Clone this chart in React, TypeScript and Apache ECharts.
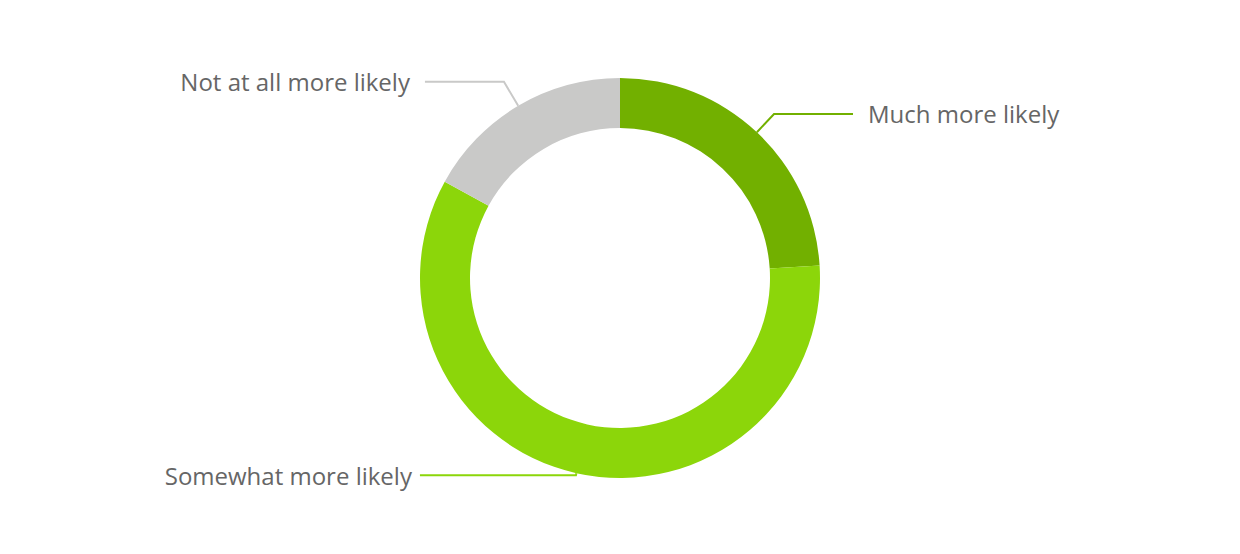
import React, { useEffect, useRef } from "react";
import * as echarts from "echarts";

const categories = ["Much more likely", "Somewhat more likely", "Not at all more likely"];
const values = [24, 59, 17];
const colors = ["#72b000", "#8cd60a", "#c9c9c8"];
// per-slice label line lengths (first segment, horizontal segment) and label gap
const lineLength = [25, 2, 28];
const lineLength2 = [79, 156, 79];
const labelGap = [15, 8, 15];

export default function App() {
  const ref = useRef<HTMLDivElement>(null);
  useEffect(() => {
    document.body.style.margin = "0";
    if (!ref.current) return;
    const chart = echarts.init(ref.current, undefined, { renderer: "svg" });
    chart.setOption({
      animation: false,
      backgroundColor: "#ffffff",
      series: [
        {
          type: "pie",
          center: ["50%", 278],
          radius: [150, 200],
          startAngle: 90,
          clockwise: true,
          avoidLabelOverlap: false,
          label: {
            show: true,
            fontFamily: "'Open Sans', sans-serif",
            fontSize: 24,
            color: "#666666",
          },
          labelLine: { show: true, smooth: false, lineStyle: { width: 2 } },
          data: categories.map((name, i) => ({
            name,
            value: values[i],
            itemStyle: { color: colors[i] },
            label: { distanceToLabelLine: labelGap[i] },
            labelLine: { length: lineLength[i], length2: lineLength2[i] },
          })),
        },
      ],
    });
    return () => chart.dispose();
  }, []);
  return <div ref={ref} style={{ width: 1240, height: 554 }} />;
}
